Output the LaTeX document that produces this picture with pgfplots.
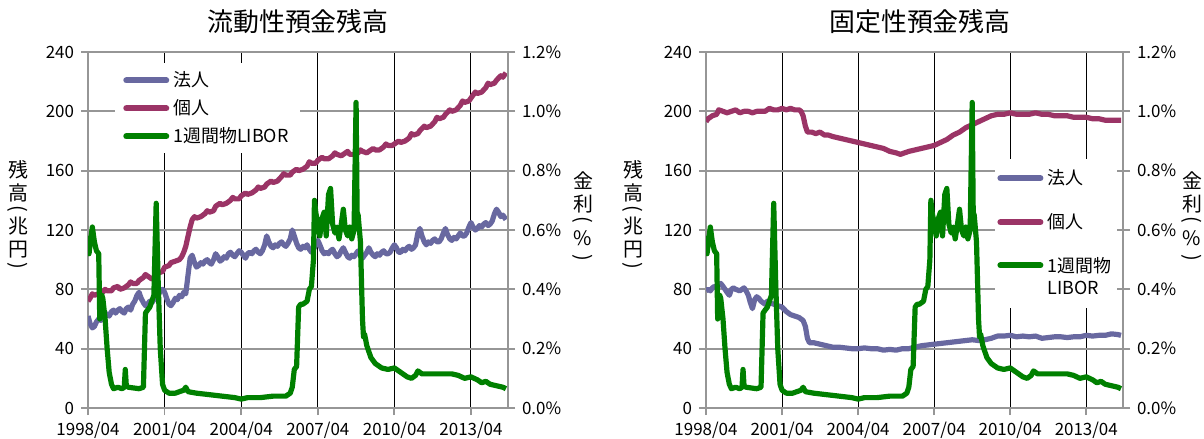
\documentclass[border=0pt]{standalone}
\usepackage{fontspec}
\setmainfont{Noto Sans CJK JP}
\usepackage{graphicx}
\usepackage{pgfplots}
\usepackage{pgfplotstable}
\pgfplotsset{compat=1.18}
\definecolor{cHojin}{RGB}{104,104,160}
\definecolor{cKojin}{RGB}{155,52,102}
\definecolor{cLibor}{RGB}{0,128,0}
\definecolor{cGrid}{RGB}{150,150,150}

\pgfplotstableread{
t r
1998.25 0.58
1998.29 0.52
1998.33 0.55
1998.42 0.61
1998.50 0.56
1998.58 0.53
1998.67 0.52
1998.71 0.30
1998.75 0.33
1998.79 0.38
1998.83 0.37
1998.92 0.30
1999.00 0.20
1999.08 0.12
1999.17 0.08
1999.25 0.065
1999.42 0.07
1999.58 0.065
1999.67 0.07
1999.71 0.13
1999.75 0.075
1999.83 0.07
2000.00 0.068
2000.25 0.065
2000.42 0.07
2000.50 0.32
2000.58 0.33
2000.67 0.34
2000.75 0.36
2000.83 0.38
2000.92 0.69
2001.00 0.42
2001.08 0.20
2001.17 0.08
2001.25 0.06
2001.42 0.05
2001.67 0.05
2001.83 0.055
2002.00 0.06
2002.08 0.07
2002.17 0.055
2002.50 0.05
2003.00 0.045
2003.50 0.04
2004.00 0.035
2004.25 0.03
2004.50 0.035
2005.00 0.035
2005.50 0.04
2006.00 0.04
2006.17 0.05
2006.25 0.07
2006.33 0.13
2006.42 0.14
2006.50 0.34
2006.58 0.35
2006.67 0.35
2006.83 0.36
2006.92 0.40
2007.00 0.41
2007.08 0.50
2007.12 0.70
2007.17 0.66
2007.25 0.62
2007.33 0.58
2007.42 0.64
2007.50 0.66
2007.58 0.58
2007.67 0.72
2007.75 0.74
2007.83 0.62
2007.92 0.59
2008.00 0.61
2008.08 0.57
2008.17 0.62
2008.25 0.67
2008.33 0.60
2008.42 0.58
2008.50 0.61
2008.58 0.57
2008.67 0.60
2008.75 1.03
2008.79 0.66
2008.83 0.65
2008.92 0.56
2009.00 0.30
2009.04 0.24
2009.08 0.25
2009.17 0.21
2009.33 0.17
2009.50 0.15
2009.75 0.135
2010.00 0.13
2010.25 0.135
2010.50 0.12
2010.75 0.105
2010.92 0.10
2011.08 0.11
2011.17 0.125
2011.33 0.115
2011.58 0.115
2012.00 0.115
2012.50 0.115
2012.75 0.11
2013.00 0.10
2013.25 0.105
2013.50 0.095
2013.67 0.085
2013.83 0.09
2014.00 0.08
2014.25 0.075
2014.50 0.07
2014.62 0.065
}\libor

\pgfplotstableread{
t v
1998.25 62
1998.33 57
1998.42 54
1998.50 55
1998.58 58
1998.67 60
1998.75 59
1998.83 62
1998.92 64
1999.00 63
1999.08 62
1999.17 65
1999.25 66
1999.33 64
1999.42 66
1999.50 67
1999.58 65
1999.67 64
1999.75 67
1999.83 68
1999.92 66
2000.00 70
2000.08 72
2000.17 76
2000.25 78
2000.33 74
2000.42 71
2000.50 69
2000.58 70
2000.67 72
2000.75 71
2000.83 73
2000.92 75
2001.00 76
2001.08 79
2001.17 80
2001.25 78
2001.33 74
2001.42 70
2001.50 69
2001.58 71
2001.67 74
2001.75 73
2001.83 76
2001.92 75
2002.00 78
2002.08 77
2002.17 90
2002.25 101
2002.33 103
2002.42 98
2002.50 95
2002.58 96
2002.67 98
2002.75 97
2002.83 99
2002.92 100
2003.00 98
2003.08 97
2003.17 100
2003.25 104
2003.33 102
2003.42 99
2003.50 100
2003.58 102
2003.67 101
2003.75 104
2003.83 105
2003.92 103
2004.00 102
2004.08 104
2004.17 106
2004.25 105
2004.33 103
2004.42 101
2004.50 104
2004.58 105
2004.67 104
2004.75 106
2004.83 107
2004.92 105
2005.00 104
2005.08 106
2005.17 110
2005.25 116
2005.33 112
2005.42 109
2005.50 108
2005.58 110
2005.67 109
2005.75 111
2005.83 112
2005.92 110
2006.00 109
2006.08 111
2006.17 114
2006.25 120
2006.33 116
2006.42 111
2006.50 108
2006.58 107
2006.67 109
2006.75 108
2006.83 110
2006.92 107
2007.00 105
2007.08 107
2007.17 110
2007.25 113
2007.33 110
2007.42 106
2007.50 104
2007.58 105
2007.67 104
2007.75 106
2007.83 107
2007.92 104
2008.00 102
2008.08 103
2008.17 106
2008.25 108
2008.33 105
2008.42 102
2008.50 101
2008.58 103
2008.67 102
2008.75 104
2008.83 106
2008.92 103
2009.00 101
2009.08 103
2009.17 105
2009.25 108
2009.33 105
2009.42 103
2009.50 102
2009.58 104
2009.67 103
2009.75 105
2009.83 106
2009.92 104
2010.00 104
2010.08 105
2010.17 108
2010.25 110
2010.33 108
2010.42 105
2010.50 105
2010.58 107
2010.67 106
2010.75 108
2010.83 109
2010.92 107
2011.00 108
2011.08 110
2011.17 118
2011.25 121
2011.33 116
2011.42 112
2011.50 110
2011.58 112
2011.67 111
2011.75 113
2011.83 114
2011.92 112
2012.00 112
2012.08 114
2012.17 118
2012.25 121
2012.33 117
2012.42 114
2012.50 113
2012.58 115
2012.67 114
2012.75 116
2012.83 118
2012.92 116
2013.00 116
2013.08 118
2013.17 122
2013.25 125
2013.33 122
2013.42 120
2013.50 121
2013.58 123
2013.67 122
2013.75 124
2013.83 125
2013.92 123
2014.00 124
2014.08 126
2014.17 131
2014.25 134
2014.33 132
2014.42 129
2014.50 130
2014.58 128
2014.62 127
}\ryuHojin

\pgfplotstableread{
t v
1998.25 72
1998.33 74
1998.42 77
1998.50 76
1998.67 77
1998.83 78
1998.92 80
1999.00 79
1999.17 79
1999.25 81
1999.42 82
1999.50 80
1999.67 81
1999.83 83
1999.92 85
2000.00 84
2000.17 84
2000.25 86
2000.42 88
2000.50 90
2000.58 89
2000.75 87
2000.92 88
2001.00 91
2001.17 92
2001.25 95
2001.42 96
2001.50 98
2001.67 99
2001.83 100
2001.92 102
2002.00 105
2002.08 109
2002.17 116
2002.25 122
2002.33 127
2002.42 129
2002.50 128
2002.67 129
2002.83 131
2002.92 133
2003.00 132
2003.17 133
2003.25 136
2003.42 138
2003.50 137
2003.67 138
2003.83 140
2003.92 142
2004.00 141
2004.17 141
2004.25 143
2004.42 145
2004.50 144
2004.67 145
2004.83 147
2004.92 149
2005.00 148
2005.17 149
2005.25 151
2005.42 153
2005.50 152
2005.67 153
2005.83 156
2005.92 158
2006.00 157
2006.17 157
2006.25 159
2006.42 161
2006.50 160
2006.67 161
2006.83 163
2006.92 166
2007.00 165
2007.17 165
2007.25 167
2007.42 169
2007.50 168
2007.67 168
2007.83 170
2007.92 172
2008.00 171
2008.17 170
2008.25 171
2008.42 173
2008.50 171
2008.67 171
2008.83 172
2008.92 174
2009.00 173
2009.17 172
2009.25 173
2009.42 175
2009.50 174
2009.67 174
2009.83 176
2009.92 178
2010.00 177
2010.17 177
2010.25 178
2010.42 180
2010.50 179
2010.67 180
2010.83 182
2010.92 185
2011.00 184
2011.17 185
2011.25 187
2011.42 190
2011.50 189
2011.67 190
2011.83 193
2011.92 196
2012.00 195
2012.17 196
2012.25 198
2012.42 201
2012.50 200
2012.67 201
2012.83 204
2012.92 207
2013.00 206
2013.17 207
2013.25 209
2013.42 213
2013.50 212
2013.67 213
2013.83 216
2013.92 219
2014.00 218
2014.17 219
2014.25 221
2014.42 224
2014.50 223
2014.62 226
}\ryuKojin

\pgfplotstableread{
t v
1998.25 79
1998.33 80
1998.42 79
1998.50 81
1998.58 82
1998.67 81
1998.75 83
1998.83 84
1998.92 82
1999.00 80
1999.08 78
1999.17 76
1999.25 80
1999.33 81
1999.42 80
1999.58 79
1999.67 80
1999.75 81
1999.83 79
1999.92 76
2000.00 71
2000.08 67
2000.17 73
2000.25 75
2000.33 74
2000.42 72
2000.58 70
2000.67 72
2000.75 71
2000.92 70
2001.08 69
2001.25 68
2001.42 65
2001.58 63
2001.75 62
2001.92 61
2002.00 60
2002.08 59
2002.17 55
2002.25 47
2002.33 44
2002.50 44
2002.75 43
2003.00 42
2003.25 41
2003.50 41
2003.75 40.5
2004.00 40
2004.25 40
2004.50 40.5
2004.75 40
2005.00 40
2005.25 39
2005.50 39.5
2005.75 39
2006.00 40
2006.25 40
2006.50 41
2006.75 42
2007.00 42.5
2007.25 43
2007.50 43.5
2007.75 44
2008.00 44.5
2008.25 45
2008.50 45.5
2008.75 46
2009.00 45.5
2009.25 46
2009.50 47
2009.75 48.5
2010.00 48.5
2010.25 49
2010.50 48
2010.75 48.5
2011.00 48
2011.25 48.5
2011.50 47
2011.75 47.5
2012.00 48
2012.25 48
2012.50 47.5
2012.75 48
2013.00 48
2013.25 49
2013.50 48.5
2013.75 49
2014.00 49
2014.25 50
2014.50 49.5
2014.62 49
}\koHojin

\pgfplotstableread{
t v
1998.25 193
1998.33 195
1998.50 197
1998.67 198
1998.75 201
1998.92 200
1999.08 199
1999.25 200
1999.42 201
1999.58 199
1999.75 200
1999.92 200
2000.08 199
2000.25 200
2000.42 200
2000.58 200
2000.75 202
2000.92 201
2001.08 201
2001.25 202
2001.42 201
2001.58 202
2001.75 201
2001.92 201
2002.00 200
2002.08 197
2002.17 190
2002.25 186
2002.42 186
2002.58 185
2002.75 186
2002.92 184
2003.08 184
2003.25 183
2003.50 182
2003.75 181
2004.00 180
2004.25 179
2004.50 178
2004.75 177
2005.00 176
2005.25 175
2005.50 173
2005.75 172
2005.92 171
2006.08 172
2006.25 173
2006.50 174
2006.75 175
2007.00 176
2007.25 177
2007.50 179
2007.75 181
2008.00 184
2008.25 186
2008.50 189
2008.75 191
2009.00 193
2009.25 195
2009.50 197
2009.75 198
2010.00 198
2010.25 199
2010.50 198
2010.75 198
2011.00 198
2011.25 199
2011.50 198
2011.75 198
2012.00 197
2012.25 197
2012.50 197
2012.75 196
2013.00 196
2013.25 196
2013.50 195
2013.75 195
2014.00 194
2014.25 194
2014.50 194
2014.62 194
}\koKojin

\pgfplotsset{
  panel/.style={scale only axis, height=178bp, xmin=1998.25, xmax=2014.7,
    axis line style={cGrid, line width=0.9bp, -},
    tick style={cGrid, line width=0.9bp}, major tick length=3.5bp, tick align=outside,
    tick label style={font=\fontsize{8.5}{9}\selectfont},
  },
  leftax/.style={panel, ymin=0, ymax=240,
    axis x line*=bottom, axis y line*=left,
    xtick={1998.25,2001.25,2004.25,2007.25,2010.25,2013.25},
    xticklabels={1998/04,2001/04,2004/04,2007/04,2010/04,2013/04},
    ytick={0,40,80,120,160,200,240},
    yticklabels={0,40,80,120,160,200,240},
    ymajorgrids, xmajorgrids,
    major y grid style={cGrid, line width=0.9bp},
    major x grid style={black, line width=0.5bp},
  },
  rightax/.style={panel, ymin=0, ymax=1.2,
    axis y line*=right, axis x line=none,
    ytick={0,0.2,0.4,0.6,0.8,1.0,1.2},
    yticklabels={0.0\%,0.2\%,0.4\%,0.6\%,0.8\%,1.0\%,1.2\%},
    legend image code/.code={\draw[#1, line width=3bp, line cap=round] (0bp,0bp) -- (20bp,0bp);},
    legend cell align=left,
  },
  ser/.style={line width=2.6bp, line join=round},
}

\begin{document}
\begin{tikzpicture}[x=1bp,y=1bp]
\useasboundingbox (0,0) rectangle (602,219);

% ---------- left panel ----------
\begin{axis}[leftax, width=210bp, at={(44bp,15bp)}, anchor=south west]
\addplot[ser, cHojin] table[x=t,y=v] {\ryuHojin};
\addplot[ser, cKojin] table[x=t,y=v] {\ryuKojin};
\end{axis}
\begin{axis}[rightax, width=210bp, at={(44bp,15bp)}, anchor=south west,
  legend style={at={(0.064,0.969)}, anchor=north west, draw=none, fill=white,
    font=\fontsize{9}{10}\selectfont, row sep=1bp, inner xsep=4bp, inner ysep=2bp}]
\addlegendimage{cHojin}
\addlegendentry{法人}
\addlegendimage{cKojin}
\addlegendentry{個人}
\addplot[ser, cLibor] table[x=t,y=r] {\libor};
\addlegendentry{1週間物LIBOR}
\end{axis}

% ---------- right panel ----------
\begin{axis}[leftax, width=208.5bp, at={(353bp,15bp)}, anchor=south west]
\addplot[ser, cHojin] table[x=t,y=v] {\koHojin};
\addplot[ser, cKojin] table[x=t,y=v] {\koKojin};
\end{axis}
\begin{axis}[rightax, width=208.5bp, at={(353bp,15bp)}, anchor=south west,
  legend style={at={(0.693,0.70)}, anchor=north west, draw=none, fill=white,
    font=\fontsize{9}{10}\selectfont, row sep=9bp, inner xsep=1bp, inner ysep=3bp}]
\addlegendimage{cHojin}
\addlegendentry{法人}
\addlegendimage{cKojin}
\addlegendentry{個人}
\addplot[ser, cLibor] table[x=t,y=r] {\libor};
\addlegendentry[align=left, anchor=base west, yshift=-14.4bp, text depth=2bp, font=\fontsize{9}{11}\selectfont]{1週間物\\LIBOR}
\end{axis}

% ---------- titles ----------
\node[font=\fontsize{13}{14}\selectfont] at (149,208) {流動性預金残高};
\node[font=\fontsize{13}{14}\selectfont] at (460,208) {固定性預金残高};

% ---------- axis labels ----------
\node[font=\fontsize{10}{11.5}\selectfont, align=center, inner sep=0] at (9,111)
  {残\\高\\[-4bp]\rotatebox[origin=c]{-90}{(}\\[-2bp]兆\\円\\[-4bp]\rotatebox[origin=c]{-90}{)}};
\node[font=\fontsize{10}{11.5}\selectfont, align=center, inner sep=0] at (291.5,110)
  {金\\利\\[-4bp]\rotatebox[origin=c]{-90}{(}\\[-2bp]\%\\[-2bp]\rotatebox[origin=c]{-90}{)}};
\node[font=\fontsize{10}{11.5}\selectfont, align=center, inner sep=0] at (316.5,111)
  {残\\高\\[-4bp]\rotatebox[origin=c]{-90}{(}\\[-2bp]兆\\円\\[-4bp]\rotatebox[origin=c]{-90}{)}};
\node[font=\fontsize{10}{11.5}\selectfont, align=center, inner sep=0] at (596,110)
  {金\\利\\[-4bp]\rotatebox[origin=c]{-90}{(}\\[-2bp]\%\\[-2bp]\rotatebox[origin=c]{-90}{)}};
\end{tikzpicture}
\end{document}
